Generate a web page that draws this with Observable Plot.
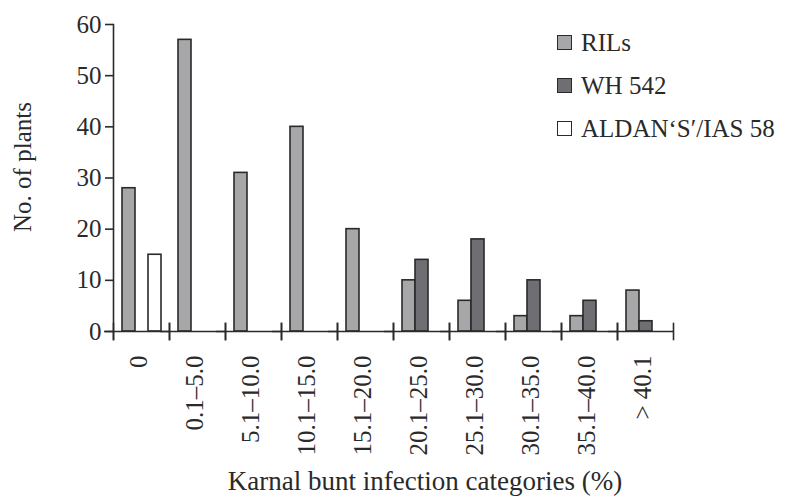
<!DOCTYPE html>
<html>
<head>
<meta charset="utf-8">
<script src="https://cdn.jsdelivr.net/npm/d3@7"></script>
<script src="https://cdn.jsdelivr.net/npm/@observablehq/plot@0.6"></script>
<style>
  html, body { margin: 0; padding: 0; background: #fff; }
  #wrap { position: relative; width: 788px; height: 497px; font-family: "Liberation Serif", serif; color: #2a2a2a; }
  #legend { position: absolute; left: 557px; top: 21px; font-size: 25px; line-height: 43px; }
  #legend .item { display: flex; align-items: center; height: 43px; }
  #legend .sw { width: 13px; height: 13px; border: 1.5px solid #2a2a2a; margin-right: 9px; box-sizing: content-box; }
  #xtitle { position: absolute; left: 0; width: 850px; top: 466px; text-align: center; font-size: 27px; }
  #ytitle { position: absolute; left: 23px; top: 167px; font-size: 25px; white-space: nowrap;
            transform: translate(-50%, -50%) rotate(-90deg); }
</style>
</head>
<body>
<div id="wrap"></div>
<script>
const categories = ["0", "0.1–5.0", "5.1–10.0", "10.1–15.0", "15.1–20.0", "20.1–25.0", "25.1–30.0", "30.1–35.0", "35.1–40.0", "> 40.1"];
const series = ["RILs", "WH 542", "ALDAN‘S′/IAS 58"];
const rils   = [28, 57, 31, 40, 20, 10, 6, 3, 3, 8];
const wh542  = [null, null, null, null, null, 14, 18, 10, 6, 2];
const aldan  = [15, null, null, null, null, null, null, null, null, null];
const colors = ["#a7a7aa", "#6f6f73", "#ffffff"];
const yTicks = [0, 10, 20, 30, 40, 50, 60];
const yTitle = "No. of plants";
const xTitle = "Karnal bunt infection categories (%)";

const rows = [];
[rils, wh542, aldan].forEach((vals, s) => {
  vals.forEach((v, i) => { if (v != null) rows.push({cat: categories[i], series: series[s], value: v}); });
});

const ink = "#2a2a2a";
const chart = Plot.plot({
  width: 788,
  height: 497,
  marginLeft: 109,
  marginRight: 112,
  marginTop: 24,
  marginBottom: 166,
  style: {fontFamily: "Liberation Serif, serif", fontSize: "25px", color: ink, background: "white"},
  fx: {domain: categories, padding: 0, label: null, axis: null},
  x: {domain: series, paddingInner: 0, paddingOuter: 0.6, axis: null},
  y: {domain: [0, 60], label: null, axis: null},
  color: {domain: series, range: colors},
  marks: [
    Plot.barY(rows, {fx: "cat", x: "series", y: "value", fill: "series", stroke: ink, strokeWidth: 1.6}),
    Plot.ruleY([0], {stroke: ink, strokeWidth: 1.6, insetLeft: -9}),
    Plot.frame({anchor: "left", stroke: ink, strokeWidth: 1.6, insetTop: 299, insetBottom: -8}),
    Plot.frame({anchor: "right", stroke: ink, strokeWidth: 1.6, insetTop: 299, insetBottom: -8}),
    Plot.frame({anchor: "left", facetAnchor: "left", stroke: ink, strokeWidth: 1.6, insetBottom: -8}),
    Plot.axisY({ticks: yTicks, tickSize: 8, tickPadding: 4, tickFormat: d => String(d), strokeWidth: 1.6, label: null}),
    Plot.axisFx({anchor: "bottom", tickSize: 0, tickRotate: -90, tickPadding: 24, dx: -3, label: null})
  ]
});

const wrap = document.getElementById("wrap");
wrap.appendChild(chart);

const legend = document.createElement("div");
legend.id = "legend";
series.forEach((s, i) => {
  const item = document.createElement("div");
  item.className = "item";
  const sw = document.createElement("span");
  sw.className = "sw";
  sw.style.background = colors[i];
  const t = document.createElement("span");
  t.textContent = s;
  item.appendChild(sw); item.appendChild(t);
  legend.appendChild(item);
});
wrap.appendChild(legend);

const xt = document.createElement("div");
xt.id = "xtitle";
xt.textContent = xTitle;
wrap.appendChild(xt);

const yt = document.createElement("div");
yt.id = "ytitle";
yt.textContent = yTitle;
wrap.appendChild(yt);
</script>
</body>
</html>
